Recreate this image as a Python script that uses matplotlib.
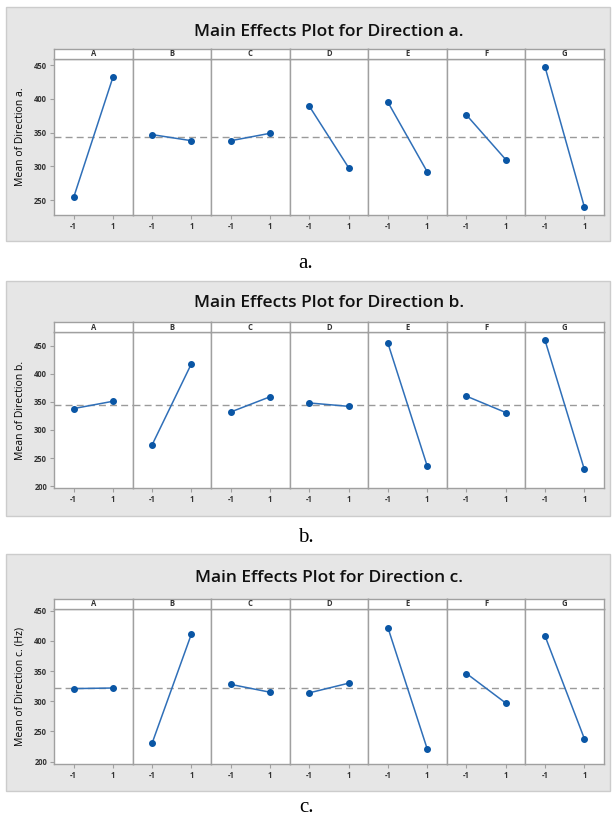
import matplotlib.pyplot as plt
import matplotlib.patches as mpatches
import numpy as np

# factor names and levels
factors = ['A', 'B', 'C', 'D', 'E', 'F', 'G']
levels = [-1, 1]

# mean response at level -1 and level 1 for each factor
means_a = [[254, 432], [347, 338], [338, 349], [389, 298], [395, 292], [376, 310], [447, 240]]
means_b = [[338, 351], [274, 418], [332, 359], [348, 342], [454, 236], [360, 331], [459, 230]]
means_c = [[321, 322], [231, 412], [328, 315], [314, 330], [422, 221], [346, 297], [408, 238]]

titles = ['Main Effects Plot for Direction a.',
          'Main Effects Plot for Direction b.',
          'Main Effects Plot for Direction c.']
ylabels = ['Mean of Direction a.', 'Mean of Direction b.', 'Mean of Direction c. (Hz)']
captions = ['a.', 'b.', 'c.']
yticks_list = [[250, 300, 350, 400, 450], [200, 250, 300, 350, 400, 450], [200, 250, 300, 350, 400, 450]]
ylims = [(228, 459), (197, 474), (196, 453)]

W, H = 612, 823
fig = plt.figure(figsize=(W / 100, H / 100), dpi=100)
plt.rcParams['font.family'] = ['Open Sans', 'DejaVu Sans']


def fx(x):
    return x / W


def fy(y):
    return 1 - y / H


# pixel layout of each block: grey box top/bottom, strip top, plot top/bottom, title y, caption y
layout = [
    dict(box=(7, 241), strip=49, top=59, bottom=215, title=32, cap=263),
    dict(box=(281, 516), strip=322, top=332, bottom=488, title=303, cap=538),
    dict(box=(554, 791), strip=599, top=609, bottom=764, title=578, cap=807),
]
left, right = 54, 604
pw = (right - left) / len(factors)
grid_col = '#a0a0a0'

for k, data in enumerate([means_a, means_b, means_c]):
    L = layout[k]
    b0, b1 = L['box']
    fig.patches.append(mpatches.Rectangle((fx(6), fy(b1)), fx(604), (b1 - b0) / H,
                                          transform=fig.transFigure, facecolor='#e6e6e6',
                                          edgecolor='#cccccc', linewidth=1, zorder=-5))
    fig.text(fx((left + right) / 2), fy(L['title']), titles[k], ha='center', va='center',
             fontsize=12.5, fontweight='semibold', color='#111111')
    fig.text(fx(306), fy(L['cap']), captions[k], ha='center', va='center',
             fontsize=15, family=['Liberation Serif', 'DejaVu Serif'])
    grand = np.mean(data)
    for i, f in enumerate(factors):
        x0 = left + i * pw
        ax = fig.add_axes([fx(x0), fy(L['bottom']), pw / W, (L['bottom'] - L['top']) / H])
        ax.set_facecolor('white')
        ax.axhline(grand, color='#9a9a9a', linestyle=(0, (5, 3)), linewidth=1, zorder=1)
        ax.plot(levels, data[i], color='#2f6fb8', linewidth=1.1, marker='o', markersize=4,
                markerfacecolor='#0a56a5', markeredgecolor='#0a56a5', zorder=3)
        ax.set_xlim(-2, 2)
        ax.set_ylim(*ylims[k])
        ax.set_xticks(levels)
        ax.set_xticklabels(['-1', '1'], fontsize=5.5, fontweight='bold', color='#333333')
        ax.tick_params(axis='x', length=3, color=grid_col, pad=2)
        for s in ax.spines.values():
            s.set_color(grid_col)
            s.set_linewidth(1)
        if i == 0:
            ax.set_yticks(yticks_list[k])
            ax.set_yticklabels([str(t) for t in yticks_list[k]], fontsize=5.5,
                               fontweight='bold', color='#333333')
            ax.tick_params(axis='y', length=3, color=grid_col, pad=2)
            ax.set_ylabel(ylabels[k], fontsize=7.5, labelpad=6)
        else:
            ax.set_yticks([])
        # strip with factor name
        sax = fig.add_axes([fx(x0), fy(L['top']), pw / W, (L['top'] - L['strip']) / H])
        sax.set_facecolor('white')
        sax.set_xticks([])
        sax.set_yticks([])
        for s in sax.spines.values():
            s.set_color(grid_col)
            s.set_linewidth(1)
        sax.text(0.5, 0.5, f, ha='center', va='center', fontsize=5.5, fontweight='bold',
                 color='#333333', transform=sax.transAxes)

fig.savefig('out.png', dpi=100)
